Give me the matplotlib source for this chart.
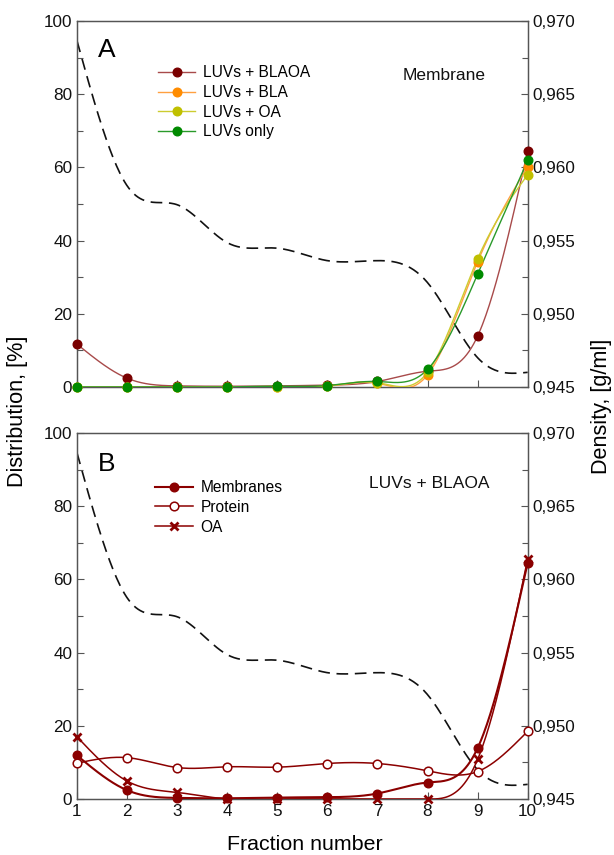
import numpy as np
import matplotlib
matplotlib.use("Agg")
import matplotlib.pyplot as plt
from matplotlib.ticker import FuncFormatter, MultipleLocator
from matplotlib.lines import Line2D

plt.rcParams['font.family'] = ['Liberation Sans', 'DejaVu Sans']

# ---- data ----
fractions = [1, 2, 3, 4, 5, 6, 7, 8, 9, 10]
density = [0.96865, 0.95875, 0.95745, 0.95486, 0.95448, 0.95363, 0.95363, 0.95213, 0.94700, 0.94600]

# panel A: membrane distribution (%)
luvs_blaoa = [11.7, 2.4, 0.3, 0.2, 0.3, 0.5, 1.5, 4.3, 13.9, 64.5]
luvs_bla = [0.0, 0.0, 0.0, 0.0, 0.1, 0.2, 1.0, 3.3, 34.2, 60.2]
luvs_oa = [0.0, 0.0, 0.0, 0.0, 0.1, 0.3, 1.2, 4.0, 35.0, 58.0]
luvs_only = [0.0, 0.0, 0.0, 0.0, 0.2, 0.4, 1.5, 4.8, 30.8, 61.9]

# panel B: LUVs + BLAOA distribution (%)
membranes = [11.9, 2.4, 0.3, 0.2, 0.4, 0.5, 1.5, 4.5, 13.9, 64.5]
protein = [9.8, 11.3, 8.6, 8.8, 8.7, 9.7, 9.7, 7.7, 7.5, 18.5]
oleic_acid = [17.0, 4.9, 1.8, 0.0, 0.0, 0.0, 0.0, 0.0, 10.8, 65.6]


def natural_spline(x, y, n=400):
    """Smooth curve through the points (natural cubic spline)."""
    x = np.asarray(x, float)
    y = np.asarray(y, float)
    k = len(x)
    h = np.diff(x)
    A = np.zeros((k, k))
    b = np.zeros(k)
    A[0, 0] = A[-1, -1] = 1.0
    for i in range(1, k - 1):
        A[i, i - 1] = h[i - 1]
        A[i, i] = 2 * (h[i - 1] + h[i])
        A[i, i + 1] = h[i]
        b[i] = 6 * ((y[i + 1] - y[i]) / h[i] - (y[i] - y[i - 1]) / h[i - 1])
    M = np.linalg.solve(A, b)
    xs = np.linspace(x[0], x[-1], n)
    idx = np.clip(np.searchsorted(x, xs) - 1, 0, k - 2)
    x0, x1 = x[idx], x[idx + 1]
    hh = x1 - x0
    t0 = x1 - xs
    t1 = xs - x0
    ys = (M[idx] * t0 ** 3 + M[idx + 1] * t1 ** 3) / (6 * hh) \
        + (y[idx] / hh - M[idx] * hh / 6) * t0 \
        + (y[idx + 1] / hh - M[idx + 1] * hh / 6) * t1
    return xs, ys


spine_col = '#555555'
tick_fs = 12.3
fig = plt.figure(figsize=(6.14, 8.55), dpi=100)
ax_a = fig.add_axes([0.1254, 0.5474, 0.7340, 0.4280])
ax_b = fig.add_axes([0.1254, 0.0655, 0.7340, 0.4280])


def style_axes(ax, show_xlabels):
    ax.set_xlim(1, 10)
    ax.set_ylim(0, 100)
    ax.xaxis.set_major_locator(MultipleLocator(1))
    ax.yaxis.set_major_locator(MultipleLocator(20))
    ax.yaxis.set_minor_locator(MultipleLocator(10))
    ax.tick_params(axis='both', which='both', direction='in', colors=spine_col,
                   labelcolor='#111111', labelsize=tick_fs, width=0.8)
    ax.tick_params(which='major', length=5)
    ax.tick_params(which='minor', length=4)
    ax.tick_params(axis='x', top=False)
    if not show_xlabels:
        ax.tick_params(axis='x', labelbottom=False)
    for s in ax.spines.values():
        s.set_color(spine_col)
        s.set_linewidth(0.9)
    ax2 = ax.twinx()
    ax2.set_ylim(0.945, 0.970)
    ax2.yaxis.set_major_locator(MultipleLocator(0.005))
    ax2.yaxis.set_minor_locator(MultipleLocator(0.0025))
    ax2.yaxis.set_major_formatter(FuncFormatter(lambda v, p: f"{v:.3f}".replace('.', ',')))
    ax2.tick_params(axis='y', which='both', direction='in', colors=spine_col,
                    labelcolor='#111111', labelsize=tick_fs, width=0.8)
    ax2.tick_params(which='major', length=5)
    ax2.tick_params(which='minor', length=4)
    for s in ax2.spines.values():
        s.set_color(spine_col)
        s.set_linewidth(0.9)
    dx, dy = natural_spline(fractions, density)
    ax2.plot(dx, dy, color='#111111', lw=1.2, dashes=(7, 4), zorder=1)
    ax.set_zorder(ax2.get_zorder() + 1)
    ax.patch.set_visible(False)
    return ax2


style_axes(ax_a, False)
style_axes(ax_b, True)

legend_kw = dict(frameon=False, fontsize=11.2, handlelength=2.4, handletextpad=0.5,
                 labelspacing=0.3, borderaxespad=0)

# ---- panel A ----
series_a = [
    ("LUVs + BLAOA", luvs_blaoa, '#7a0000', '#a84a4a'),
    ("LUVs + BLA", luvs_bla, '#ff8c00', '#ffa040'),
    ("LUVs + OA", luvs_oa, '#c0c000', '#cccc30'),
    ("LUVs only", luvs_only, '#008a00', '#2a9a2a'),
]
handles_a = []
for label, vals, mcol, lcol in series_a:
    sx, sy = natural_spline(fractions, vals)
    ax_a.plot(sx, sy, color=lcol, lw=1.0, zorder=3)
    ax_a.plot(fractions, vals, 'o', color=mcol, ms=6.2, mec=mcol, zorder=4, clip_on=False)
    handles_a.append(Line2D([], [], color=lcol, lw=1.0, marker='o', ms=6.2,
                            mfc=mcol, mec=mcol, label=label))
ax_a.legend(handles=handles_a, loc='upper left', bbox_to_anchor=(0.166, 0.896), **legend_kw)
ax_a.text(0.047, 0.922, "A", transform=ax_a.transAxes, fontsize=19, va='center', ha='left')
ax_a.text(0.814, 0.85, "Membrane", transform=ax_a.transAxes, fontsize=12.5,
          ha='center', va='center', color='#111111')

# ---- panel B ----
red = '#8b0000'
for vals in (membranes, protein, oleic_acid):
    sx, sy = natural_spline(fractions, vals)
    lw = 1.5 if vals is membranes else 1.1
    ax_b.plot(sx, sy, color=red, lw=lw, zorder=3)
for vals, mk, fill, ms, mew in [(membranes, 'o', red, 6.2, 1.0),
                                (protein, 'o', 'white', 6.2, 1.1),
                                (oleic_acid, 'x', red, 6.0, 2.0)]:
    ax_b.plot(fractions, vals, mk, color=red, mfc=fill, mec=red, ms=ms, mew=mew,
              zorder=4, clip_on=False)
handles_b = [
    Line2D([], [], color=red, lw=1.5, marker='o', ms=6.2, mfc=red, mec=red, label='Membranes'),
    Line2D([], [], color=red, lw=1.1, marker='o', ms=6.2, mfc='white', mec=red, mew=1.1, label='Protein'),
    Line2D([], [], color=red, lw=1.1, marker='x', ms=6.0, mec=red, mew=2.0, label='OA'),
]
ax_b.legend(handles=handles_b, loc='upper left', bbox_to_anchor=(0.16, 0.888), **legend_kw)
ax_b.text(0.047, 0.915, "B", transform=ax_b.transAxes, fontsize=19, va='center', ha='left')
ax_b.text(0.782, 0.863, "LUVs + BLAOA", transform=ax_b.transAxes, fontsize=12.5,
          ha='center', va='center', color='#111111')

# ---- shared axis titles ----
fig.text(0.028, 0.519, "Distribution, [%]", rotation=90, ha='center', va='center', fontsize=15.6)
fig.text(0.980, 0.525, "Density, [g/ml]", rotation=90, ha='center', va='center', fontsize=15.6)
fig.text(0.497, 0.012, "Fraction number", ha='center', va='center', fontsize=15.4)

fig.savefig("out.png", dpi=100)
